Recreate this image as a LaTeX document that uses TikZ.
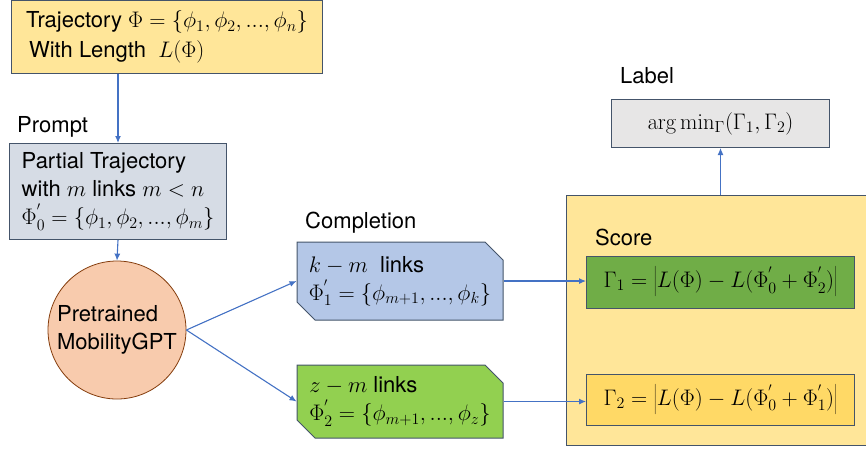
\documentclass[tikz,border=0pt]{standalone}
\usepackage{fix-cm}
\usepackage[no-math]{fontspec}
\setmainfont{TeX Gyre Heros}
\DeclareMathSizes{22}{22.5}{16}{12}
\usetikzlibrary{arrows.meta,shapes.misc}
\definecolor{bordc}{HTML}{44546A}
\definecolor{arrc}{HTML}{4472C4}
\definecolor{goldf}{HTML}{FFE699}
\definecolor{grayblue}{HTML}{D6DCE5}
\definecolor{peach}{HTML}{F8CBAD}
\definecolor{brownb}{HTML}{843C0C}
\definecolor{lblue}{HTML}{B4C7E7}
\definecolor{lgreen}{HTML}{92D050}
\definecolor{dgreen}{HTML}{70AD47}
\definecolor{ygold}{HTML}{FFD966}
\definecolor{lgray}{HTML}{E7E6E6}
\newcommand{\tallstrut}{\rule[-11pt]{0pt}{32pt}}
\tikzset{
  boxx/.style={draw=bordc, line width=1pt, inner sep=0pt, align=left, anchor=north west},
  snip/.style={boxx, chamfered rectangle, chamfered rectangle corners={north east,south west}, chamfered rectangle xsep=9pt, chamfered rectangle ysep=9pt},
  lbl/.style={inner sep=0pt, anchor=west},
  arr/.style={draw=arrc, line width=1.1pt, -{Latex[length=7pt,width=6pt]}},
}
\begin{document}
\begin{tikzpicture}[x=1pt,y=-1pt, font=\fontsize{22}{28}\selectfont]
\useasboundingbox (0,0) rectangle (866,448);
% trajectory
\node[boxx, fill=goldf, minimum width=311pt, minimum height=73pt] (traj) at (11,0)
  {Trajectory $\Phi=\{\phi_1,\phi_2,...,\phi_n\}$\\[2pt] \hspace{3pt}With Length \ $L(\Phi)$};
\node[lbl] (promptlbl) at (17,127) {Prompt};
\node[boxx, fill=grayblue, minimum width=217pt, minimum height=96pt] (partial) at (9,143)
  {Partial Trajectory\\ with $m$ links $m<n$\\ $\Phi_0^{'}=\{\phi_1,\phi_2,...,\phi_m\}$};
\node[draw=brownb, line width=0.8pt, fill=peach, circle, minimum size=138pt, inner sep=0pt, align=left] (gpt) at (117,330)
  {Pretrained\\ MobilityGPT};
% completions
\node[lbl] (complbl) at (305,223) {Completion};
\node[snip, fill=lblue, minimum width=206pt, minimum height=78pt, anchor=center] (c1) at (400,281)
  {$k-m$ \ links\\ $\Phi_1^{'}=\{\phi_{m+1},...,\phi_k\}$};
\node[snip, fill=lgreen, minimum width=206pt, minimum height=73pt, anchor=center] (c2) at (400,401.5)
  {$z-m$ links\\ $\Phi_2^{'}=\{\phi_{m+1},...,\phi_z\}$};
% score
\node[boxx, fill=goldf, minimum width=302pt, minimum height=250pt] (score) at (566,195) {};
\node[lbl] (scorelbl) at (595,237) {Score};
\node[boxx, fill=dgreen, minimum width=268pt, minimum height=52pt] (g1) at (586,256)
  {$\Gamma_1=\left|\tallstrut L(\Phi)-L(\Phi_0^{'}+\Phi_2^{'})\right|$};
\node[boxx, fill=ygold, minimum width=268pt, minimum height=51pt] (g2) at (586,374)
  {$\Gamma_2=\left|\tallstrut L(\Phi)-L(\Phi_0^{'}+\Phi_1^{'})\right|$};
% label
\node[lbl] (labellbl) at (620,76) {Label};
\node[boxx, fill=lgray, minimum width=218pt, minimum height=48pt] (lab) at (611,99)
  {$\arg\min_\Gamma(\Gamma_1,\Gamma_2)$};
% arrows
\draw[arr] (partial.north |- traj.south) -- (partial.north);
\draw[arr] (partial.south) -- (gpt.north);
\draw[arr] (gpt.east) -- (c1.west);
\draw[arr] (gpt.east) -- (c2.west);
\draw[arr] (c1.east) -- (c1.east -| g1.west);
\draw[arr] (c2.east) -- (c2.east -| g2.west);
\draw[arr] (lab.south |- score.north) -- (lab.south);
\end{tikzpicture}
\end{document}
